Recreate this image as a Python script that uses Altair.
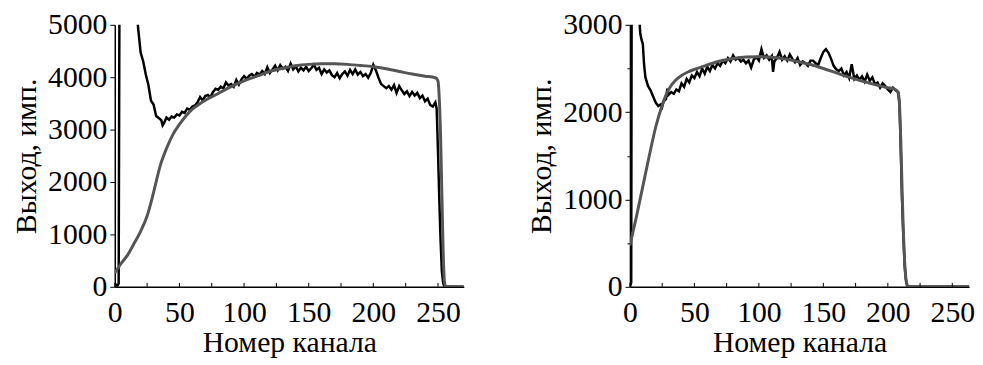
import altair as alt
import pandas as pd

# ---------------- Left panel data ----------------
L_exp_ch = [0, 1, 2, 3, 4, 10, 16, 17, 18, 20, 22, 24, 26, 28, 30, 32, 34, 36, 37, 38,
            40, 42, 44, 46, 48, 50, 52, 54, 56, 58, 60, 62, 64, 66, 68, 70, 72, 74, 76, 78,
            80, 82, 84, 86, 88, 90, 92, 94, 96, 98, 100, 102, 104, 106, 108, 110, 112, 114, 116, 118,
            120, 122, 124, 126, 128, 130, 132, 134, 136, 138, 140, 142, 144, 146, 148, 150, 152, 154, 156, 158,
            160, 162, 164, 166, 168, 170, 172, 174, 176, 178, 180, 182, 184, 186, 188, 190, 192, 194, 196, 198,
            200, 202, 204, 206, 208, 210, 212, 214, 216, 218, 220, 222, 224, 226, 228, 230, 232, 234, 236, 238,
            240, 242, 244, 246, 248, 249, 250, 251, 252, 253, 254, 255, 260, 265, 270]
L_exp_val = [30, 40, 20, 60, 9000, 8000, 6000, 5250, 4950, 4470, 4300, 4050, 3850, 3550, 3480, 3260, 3220, 3180, 3080, 3120,
             3230, 3190, 3250, 3230, 3290, 3270, 3340, 3320, 3400, 3380, 3440, 3460, 3520, 3620, 3560, 3640, 3660, 3620, 3720, 3780,
             3760, 3820, 3790, 3900, 3840, 3870, 3820, 3950, 3860, 3960, 4020, 3970, 4030, 4060, 4010, 4080, 4050, 4120, 4060, 4190,
             4080, 4150, 4220, 4130, 4230, 4160, 4200, 4120, 4260, 4150, 4210, 4110, 4180, 4130, 4200, 4120, 4170, 4240, 4140, 4180,
             4060, 4150, 4090, 4130, 4040, 4000, 4080, 3980, 4060, 4110, 4030, 4140, 4060, 4150, 4050, 4100, 4020, 4060, 3990, 4080,
             4240, 4130, 3990, 3870, 3830, 3790, 3830, 3760, 3850, 3700, 3830, 3750, 3680, 3730, 3640, 3720, 3650, 3700, 3600, 3650,
             3540, 3590, 3470, 3440, 3520, 3400, 2600, 1700, 900, 300, 80, 0, 0, 0, 0]

L_fit_ch = [0, 5, 10, 15, 20, 25, 30, 35, 40, 45, 50, 55, 60, 65, 70, 80, 90, 100, 110, 120,
            130, 140, 150, 160, 170, 180, 190, 200, 210, 220, 230, 240, 248, 250, 251, 252, 253, 254, 255, 256, 270]
L_fit_val = [265, 450, 610, 830, 1060, 1350, 1800, 2300, 2640, 2910, 3100, 3260, 3390, 3480, 3560, 3690, 3820, 3930, 4020, 4110,
             4170, 4220, 4245, 4255, 4255, 4245, 4225, 4200, 4160, 4110, 4060, 4020, 3990, 3930, 3600, 2900, 1800, 700, 100, 0, 0]

# ---------------- Right panel data ----------------
R_exp_ch = [0, 1, 2, 5, 7, 8, 9, 10, 11, 12, 14, 16, 18, 20, 22, 24, 25, 26, 28, 29,
            30, 32, 34, 36, 38, 40, 42, 44, 46, 48, 50, 52, 54, 56, 58, 60, 62, 64, 66, 68,
            70, 72, 74, 76, 78, 80, 82, 84, 86, 88, 90, 92, 94, 96, 98, 100, 102, 104, 106, 108,
            110, 111, 112, 114, 116, 118, 120, 122, 124, 126, 128, 130, 132, 134, 136, 138, 140, 142, 144, 146,
            148, 150, 152, 154, 156, 158, 160, 162, 164, 166, 168, 170, 172, 174, 176, 178, 180, 182, 184, 186,
            188, 190, 192, 194, 196, 198, 200, 202, 204, 206, 208, 209, 210, 211, 212, 213, 214, 215, 216, 230,
            245, 260, 270]
R_exp_val = [0, 50, 9000, 5000, 3150, 2900, 2830, 2780, 2540, 2400, 2300, 2250, 2180, 2110, 2070, 2090, 2060, 2120, 2150, 2270,
             2200, 2230, 2210, 2260, 2240, 2330, 2290, 2380, 2340, 2420, 2390, 2460, 2410, 2500, 2440, 2520, 2470, 2540, 2500, 2560,
             2530, 2590, 2560, 2620, 2580, 2650, 2600, 2620, 2580, 2600, 2560, 2590, 2510, 2600, 2630, 2590, 2720, 2620, 2650, 2600,
             2640, 2460, 2580, 2620, 2690, 2600, 2640, 2590, 2660, 2610, 2570, 2620, 2540, 2580, 2560, 2530, 2590, 2590, 2560, 2540,
             2620, 2690, 2720, 2680, 2610, 2530, 2490, 2470, 2500, 2420, 2460, 2390, 2550, 2380, 2420, 2370, 2410, 2350, 2430, 2360,
             2400, 2320, 2340, 2280, 2330, 2300, 2260, 2230, 2280, 2250, 2230, 2100, 1600, 1000, 600, 250, 80, 10, 0, 0,
             0, 0, 0]

R_fit_ch = [0, 5, 10, 15, 20, 25, 30, 35, 40, 45, 50, 60, 70, 80, 90, 100, 110, 120, 130, 140,
            150, 160, 170, 180, 190, 200, 205, 207, 208, 209, 210, 211, 212, 213, 214, 215, 216, 270]
R_fit_val = [475, 800, 1150, 1500, 1830, 2080, 2260, 2360, 2420, 2460, 2490, 2540, 2585, 2615, 2632, 2635, 2628, 2610, 2580, 2545,
             2500, 2450, 2400, 2355, 2315, 2280, 2265, 2245, 2220, 2100, 1700, 1150, 650, 300, 100, 20, 0, 0]

X_TICKS = [0, 25, 50, 75, 100, 125, 150, 175, 200, 225, 250]
X_LABELS = [0, 50, 100, 150, 200, 250]
Y_TICKS_L = [0, 500, 1000, 1500, 2000, 2500, 3000, 3500, 4000, 4500, 5000]
Y_TICKS_R = [0, 500, 1000, 1500, 2000, 2500, 3000]

FONT = "Liberation Serif"
H = 265


def panel(exp_ch, exp_val, fit_ch, fit_val, ymax, xmax, width, yticks):
    df_exp = pd.DataFrame({"ch": exp_ch, "v": exp_val})
    df_fit = pd.DataFrame({"ch": fit_ch, "v": fit_val})
    df_t = pd.DataFrame({"ch": X_TICKS})
    xs = alt.Scale(domain=[0, xmax], nice=False, zero=False)
    ys = alt.Scale(domain=[0, ymax], nice=False)
    xaxis = alt.Axis(values=X_LABELS, ticks=False, format="d", grid=False,
                     labelPadding=11, titlePadding=0, labelOverlap=False, labelFlush=False)
    yaxis = alt.Axis(values=yticks, format="d", grid=False, labelOverlap=False,
                     labelExpr="datum.value % 1000 == 0 ? datum.label : ''",
                     tickSize={"condition": {"test": "datum.value % 1000 == 0", "value": 5}, "value": 3},
                     labelPadding=3, titlePadding=6, labelFlush=False)
    xt = "Номер канала"
    yt = "Выход, имп."
    exp = alt.Chart(df_exp).mark_line(color="black", strokeWidth=2.5, clip=True).encode(
        x=alt.X("ch:Q", scale=xs, axis=xaxis, title=xt),
        y=alt.Y("v:Q", scale=ys, axis=yaxis, title=yt),
    )
    fit = alt.Chart(df_fit).mark_line(color="#555555", strokeWidth=3, clip=True,
                                      interpolate="monotone").encode(
        x=alt.X("ch:Q", scale=xs, title=xt),
        y=alt.Y("v:Q", scale=ys, title=yt),
    )
    ticks = alt.Chart(df_t).mark_rule(color="black", strokeWidth=1).encode(
        x=alt.X("ch:Q", scale=xs, title=xt),
        y=alt.value(H),
        y2=alt.value(H - 4),
    )
    return alt.layer(exp, fit, ticks).properties(width=width, height=H)


left = panel(L_exp_ch, L_exp_val, L_fit_ch, L_fit_val, 5000, 270, 353, Y_TICKS_L)
right = panel(R_exp_ch, R_exp_val, R_fit_ch, R_fit_val, 3000, 263, 343, Y_TICKS_R)

chart = alt.hconcat(left, right, spacing=64).configure_view(stroke=None).configure_axis(
    domainColor="black", domainWidth=1.5, tickColor="black", tickWidth=1,
    labelFont=FONT, labelFontSize=30, labelColor="black",
    titleFont=FONT, titleFontSize=30, titleFontWeight="normal", titleColor="black",
).properties(padding={"left": 4, "top": 0, "right": 0, "bottom": 0})

chart.save("out.html", embed_options={"renderer": "svg", "actions": False})
